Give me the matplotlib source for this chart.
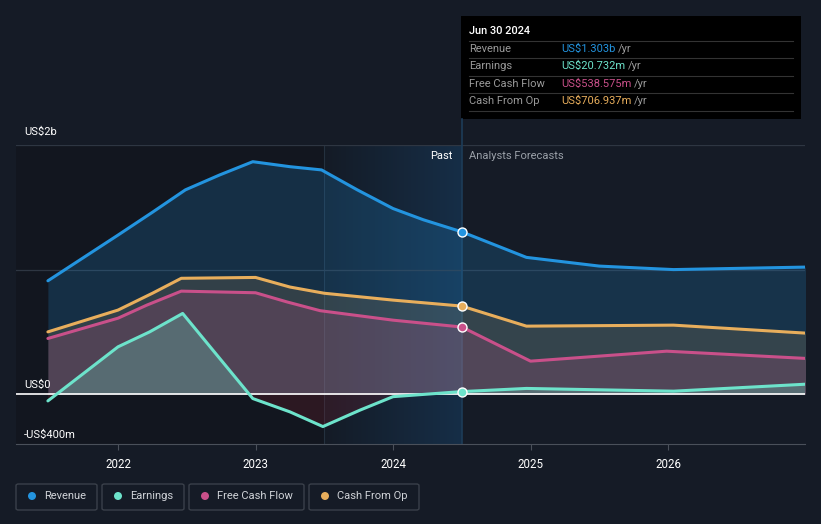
import matplotlib
matplotlib.use("Agg")
import matplotlib.pyplot as plt
import matplotlib.patches as patches
import numpy as np

plt.rcParams['font.family'] = ['Roboto', 'DejaVu Sans']

# data (US$ billions)
rev_x = [2021.49, 2022.0, 2022.25, 2022.49, 2022.74, 2022.98, 2023.25, 2023.48, 2023.74, 2024.0, 2024.22, 2024.5, 2024.97, 2025.5, 2026.04, 2027.0]
rev_y = [0.91, 1.277, 1.46, 1.64, 1.76, 1.866, 1.826, 1.80, 1.64, 1.49, 1.40, 1.303, 1.098, 1.028, 1.0, 1.02]

earn_x = [2021.49, 2022.0, 2022.23, 2022.47, 2022.69, 2022.98, 2023.25, 2023.49, 2023.76, 2024.0, 2024.5, 2024.97, 2026.04, 2027.0]
earn_y = [-0.054, 0.38, 0.50, 0.648, 0.353, -0.035, -0.142, -0.26, -0.128, -0.02, 0.0207, 0.046, 0.024, 0.08]

fcf_x = [2021.49, 2022.0, 2022.21, 2022.46, 2023.0, 2023.23, 2023.47, 2024.0, 2024.5, 2025.0, 2025.99, 2027.0]
fcf_y = [0.447, 0.61, 0.715, 0.827, 0.814, 0.74, 0.67, 0.594, 0.539, 0.265, 0.345, 0.287]

cfo_x = [2021.49, 2022.0, 2022.25, 2022.46, 2023.0, 2023.25, 2023.5, 2024.0, 2024.5, 2024.97, 2026.04, 2027.0]
cfo_y = [0.50, 0.675, 0.81, 0.93, 0.937, 0.86, 0.81, 0.755, 0.707, 0.546, 0.554, 0.49]

year_ticks = [2022, 2023, 2024, 2025, 2026]
names = ["Revenue", "Earnings", "Free Cash Flow", "Cash From Op"]
tip_values = ["US$1.303b", "US$20.732m", "US$538.575m", "US$706.937m"]
now = 2024.5
past_start = 2023.5

BG = "#151b26"
C_REV = "#2394df"
C_EARN = "#6de3cb"
C_FCF = "#c9508a"
C_CFO = "#e8ae5c"
FS = 8

fig = plt.figure(figsize=(8.21, 5.24), dpi=100, facecolor=BG)
W, H = 821, 524
ax = fig.add_axes([16 / W, (H - 444) / H, (805 - 16) / W, (444 - 145) / H])
ax.set_facecolor(BG)
x0, x1 = 2021.258, 2026.996
ax.set_xlim(x0, x1)
ax.set_ylim(-0.4, 2.0)

# darker area before the past band
ax.axvspan(x0, past_start, color="#12161f", zorder=0, lw=0)
# past band gradient
grad = np.linspace(0, 1, 200).reshape(1, -1)
cmap = matplotlib.colors.LinearSegmentedColormap.from_list("g", ["#141b26", "#162e47"])
ax.imshow(grad, extent=[past_start, now, -0.4, 2.0], aspect="auto", cmap=cmap, zorder=0.5)
ax.axvline(past_start, color="#24313f", lw=0.8, zorder=0.6)

# grid lines
for gy in [1.0, 2.0]:
    ax.axhline(gy, color="#2e3642", lw=0.9, zorder=1)

series = [
    (rev_x, rev_y, C_REV, 0.2),
    (cfo_x, cfo_y, C_CFO, 0.14),
    (fcf_x, fcf_y, C_FCF, 0.2),
    (earn_x, earn_y, C_EARN, 0.25),
]
for xs, ys, c, a in series:
    ys_arr = np.array(ys)
    ax.fill_between(xs, ys, 0, where=ys_arr >= 0, interpolate=True, color=c, alpha=a, lw=0, zorder=2)
ey = np.array(earn_y)
ax.fill_between(earn_x, earn_y, 0, where=ey < 0, interpolate=True, color="#8a2030", alpha=0.22, lw=0, zorder=2)

for xs, ys, c, a in series:
    ax.plot(xs, ys, color=c, lw=2.2, zorder=4, solid_capstyle="round", solid_joinstyle="round")
    i = xs.index(now)
    ax.scatter([now], [ys[i]], s=42, color=c, edgecolor="white", linewidth=1.0, zorder=6)

ax.axhline(0, color="white", lw=1.2, zorder=3)
ax.axvline(now, color="#1d3c58", lw=1.2, zorder=1)

for s in ax.spines.values():
    s.set_visible(False)
ax.spines["bottom"].set_visible(True)
ax.spines["bottom"].set_color("#4a505a")
ax.set_yticks([])
ax.set_xticks(year_ticks)
ax.set_xticklabels([str(y) for y in year_ticks], color="white", fontsize=8.3)
ax.tick_params(axis="x", colors="#4a505a", length=4, labelcolor="white", pad=6)

# y labels
ax.text(2021.316, 0.035, "US$0", color="white", fontsize=FS, va="bottom", zorder=7)
ax.text(2021.316, -0.365, "-US$400m", color="white", fontsize=FS, va="bottom", zorder=7)
fig.text(24 / W, 1 - 132 / H, "US$2b", color="white", fontsize=FS, va="center")

ax.text(now - 0.065, 1.915, "Past", color="white", fontsize=FS, ha="right", va="center", zorder=7)
ax.text(now + 0.055, 1.915, "Analysts Forecasts", color="#9aa0a8", fontsize=FS, ha="left", va="center", zorder=7)

# vertical line up to the tooltip
fig.add_artist(plt.Line2D([461.5 / W, 461.5 / W], [1 - 145 / H, 1 - 119 / H], color="#1d3c58", lw=1.2))

# tooltip box
fig.add_artist(patches.Rectangle((461 / W, 1 - 119 / H), 340 / W, 103 / H, facecolor="black", edgecolor="none"))
fig.text(469 / W, 1 - 31 / H, "Jun 30 2024", color="white", fontsize=7.9, fontweight="medium", va="center")
rows_y = [49, 66, 84, 101]
line_y = [41, 58, 76, 93, 111]
for ly in line_y:
    fig.add_artist(plt.Line2D([469 / W, 793 / W], [1 - ly / H, 1 - ly / H], color="#333333", lw=0.8))
for name, val, c, ry in zip(names, tip_values, [C_REV, C_EARN, C_FCF, C_CFO], rows_y):
    fig.text(469 / W, 1 - ry / H, name, color="#9a9a9a", fontsize=FS, va="center")
    t = fig.text(561 / W, 1 - ry / H, val, color=c, fontsize=FS, va="center")
    fig.canvas.draw()
    bb = t.get_window_extent()
    fig.text(bb.x1 / W + 3 / W, 1 - ry / H, "/yr", color="#9a9a9a", fontsize=FS, va="center")

# legend boxes
boxes = [(16, 97), (102, 184), (189, 304), (309, 419)]
for (bx0, bx1), name, c in zip(boxes, names, [C_REV, C_EARN, C_FCF, C_CFO]):
    fig.add_artist(patches.FancyBboxPatch((bx0 / W, 1 - 510 / H), (bx1 - bx0) / W, 26 / H,
                                          boxstyle="round,pad=0,rounding_size=0.003",
                                          facecolor="none", edgecolor="#3a404a", lw=1.0))
    fig.add_artist(patches.Ellipse(((bx0 + 16) / W, 1 - 496 / H), 8 / W, 8 / H, transform=fig.transFigure,
                                   facecolor=c, edgecolor="none"))
    fig.text((bx0 + 28) / W, 1 - 496 / H, name, color="#d0d3d8", fontsize=FS, va="center")

fig.savefig("out.png", dpi=100, facecolor=BG)
